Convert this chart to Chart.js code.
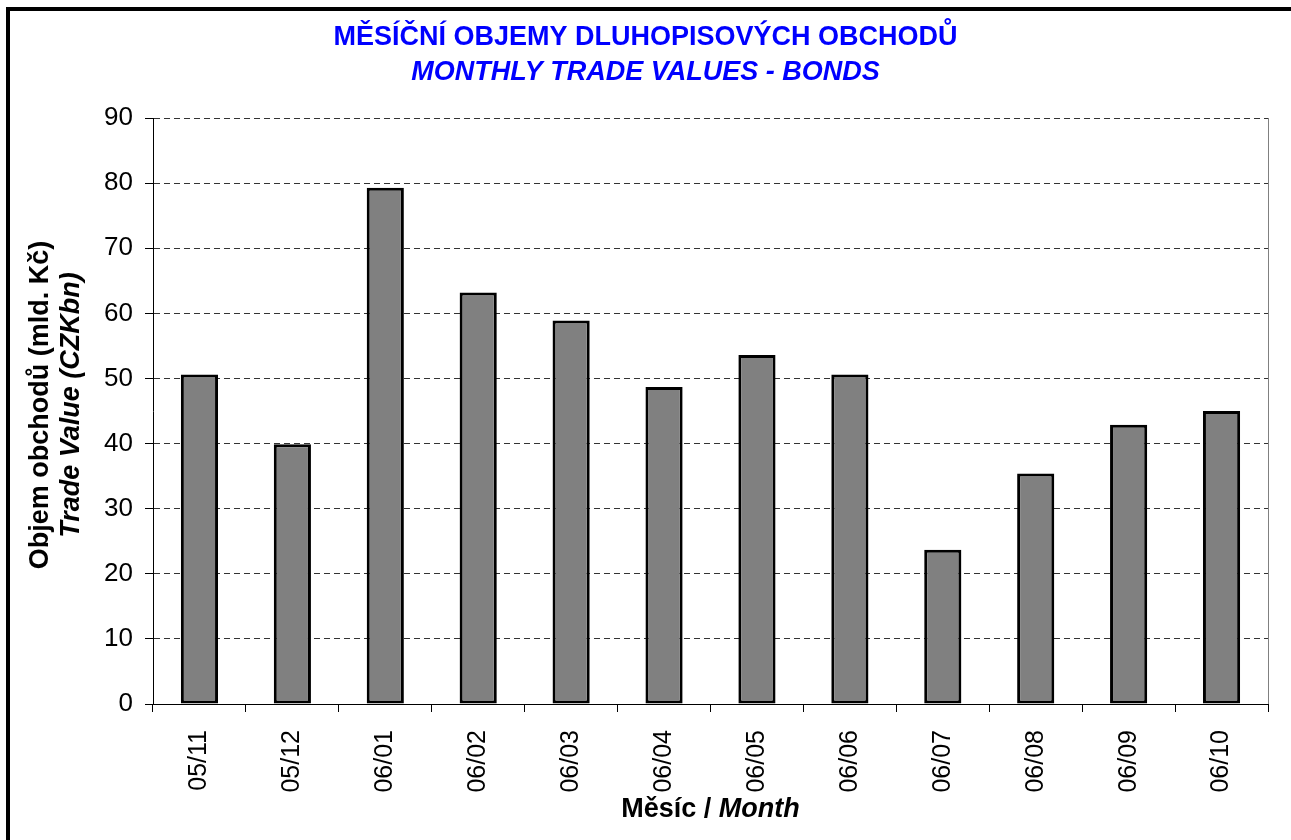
<!DOCTYPE html>
<html>
<head>
<meta charset="utf-8">
<script src="https://cdn.jsdelivr.net/npm/chart.js@4.4.0/dist/chart.umd.min.js"></script>
<style>
  html, body { margin: 0; padding: 0; background: #fff; }
  #wrap { position: relative; width: 1291px; height: 840px; overflow: hidden; }
  #frame { position: absolute; left: 6px; top: 7px; right: -10px; bottom: -10px;
           border-left: 4px solid #000; border-top: 4px solid #000; pointer-events: none; }
</style>
</head>
<body>
<div id="wrap">
  <canvas id="chart"></canvas>
  <div id="frame"></div>
</div>
<script>
// data
const months = ["05/11", "05/12", "06/01", "06/02", "06/03", "06/04",
                "06/05", "06/06", "06/07", "06/08", "06/09", "06/10"];
const tradeValues = [50.6, 39.9, 79.3, 63.2, 58.9, 48.7, 53.6, 50.6, 23.7, 35.4, 42.9, 45.0];
const yMin = 0;
const yMax = 90;
const yStep = 10;

const titleCz = "MĚSÍČNÍ OBJEMY DLUHOPISOVÝCH OBCHODŮ";
const titleEn = "MONTHLY TRADE VALUES - BONDS";
const xTitleCz = "Měsíc / ";
const xTitleEn = "Month";
const yTitleCz = "Objem obchodů (mld. Kč)";
const yTitleEn = "Trade Value (CZKbn)";

const FONT = '"Liberation Sans", Arial, sans-serif';

// axis titles mix bold and bold italic, so draw them here
const axisTitles = {
  id: 'axisTitles',
  afterDraw(chart) {
    const ctx = chart.ctx;
    const area = chart.chartArea;
    const f1 = 'bold 27px ' + FONT;
    const f2 = 'italic bold 27px ' + FONT;
    ctx.save();
    // right edge of plot
    ctx.strokeStyle = '#808080';
    ctx.lineWidth = 1;
    ctx.beginPath();
    ctx.moveTo(area.right + 0.5, area.top);
    ctx.lineTo(area.right + 0.5, area.bottom);
    ctx.stroke();

    ctx.fillStyle = '#000';
    ctx.textBaseline = 'middle';
    ctx.textAlign = 'left';
    ctx.font = f1;
    const w1 = ctx.measureText(xTitleCz).width;
    ctx.font = f2;
    const w2 = ctx.measureText(xTitleEn).width;
    const x0 = (area.left + area.right) / 2 - (w1 + w2) / 2;
    ctx.font = f1;
    ctx.fillText(xTitleCz, x0, 810);
    ctx.font = f2;
    ctx.fillText(xTitleEn, x0 + w1, 810);

    ctx.translate(41, (area.top + area.bottom) / 2 - 6);
    ctx.rotate(-Math.PI / 2);
    ctx.textAlign = 'center';
    ctx.font = f1;
    ctx.fillText(yTitleCz, 0, 0);
    ctx.font = f2;
    ctx.fillText(yTitleEn, 0, 31);
    ctx.restore();
  }
};

const ctx = document.getElementById("chart").getContext("2d");
const myChart = new Chart(ctx, {
  type: "bar",
  data: {
    labels: months,
    datasets: [{
      data: tradeValues,
      backgroundColor: "#808080",
      borderColor: "#000",
      borderWidth: 3,
      borderSkipped: false,
      barPercentage: 0.4,
      categoryPercentage: 1
    }]
  },
  options: {
    responsive: true,
    maintainAspectRatio: false,
    animation: false,
    layout: { padding: 0 },
    plugins: {
      legend: { display: false },
      tooltip: { enabled: false },
      title: {
        display: true,
        text: titleCz,
        color: "#0000FF",
        font: { family: FONT, size: 27, weight: "bold", lineHeight: 1.2 },
        padding: { top: 21, bottom: 2 }
      },
      subtitle: {
        display: true,
        text: titleEn,
        color: "#0000FF",
        font: { family: FONT, size: 27, weight: "bold", style: "italic", lineHeight: 1.2 },
        padding: { top: 1.4, bottom: 28.8 }
      }
    },
    scales: {
      x: {
        afterFit: (scale) => { scale.height = 136; },
        grid: {
          offset: true,
          drawOnChartArea: false,
          tickLength: 8,
          tickColor: "#000",
          tickWidth: 1
        },
        border: { display: true, color: "#000", width: 1 },
        ticks: {
          color: "#000",
          font: { family: FONT, size: 25 },
          minRotation: 90,
          maxRotation: 90,
          padding: 18,
          autoSkip: false
        }
      },
      y: {
        min: yMin,
        max: yMax,
        afterFit: (scale) => { scale.width = 153; },
        grid: {
          color: "#333",
          lineWidth: 1,
          tickLength: 8,
          tickColor: "#000",
          tickBorderDash: []
        },
        border: { display: true, color: "#000", width: 1, dash: [6, 4] },
        ticks: {
          stepSize: yStep,
          color: "#000",
          font: { family: FONT, size: 26 },
          padding: 12
        }
      },
      // empty strip on the right so the plot ends where it does in the picture
      yRight: {
        position: "right",
        min: yMin,
        max: yMax,
        afterFit: (scale) => { scale.width = 23; },
        grid: { display: false },
        border: { display: false },
        ticks: { display: false }
      }
    }
  },
  plugins: [axisTitles]
});
</script>
</body>
</html>
